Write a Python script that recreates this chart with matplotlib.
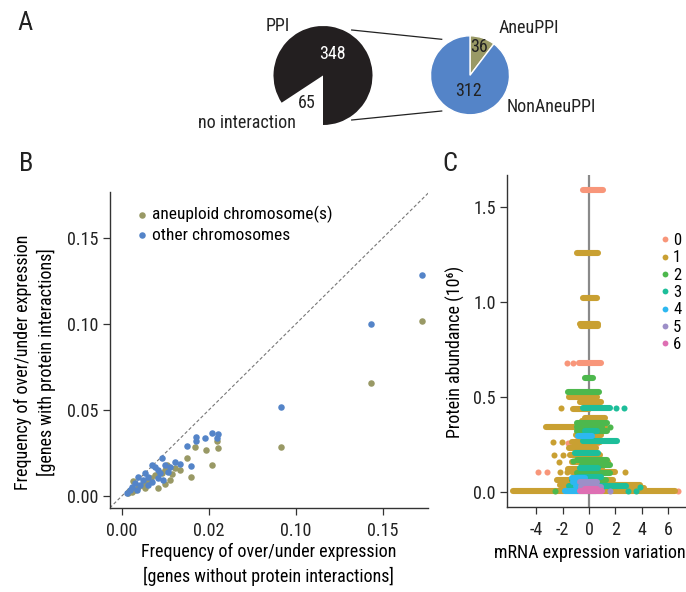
import matplotlib
matplotlib.use("Agg")
import matplotlib.pyplot as plt
from matplotlib import font_manager
from matplotlib.lines import Line2D

# pick a narrow font if one is there
names = {f.name for f in font_manager.fontManager.ttflist}
base = 'DejaVu Sans'
for cand in ['Liberation Sans Narrow', 'Roboto Condensed', 'Liberation Sans']:
    if cand in names:
        base = cand
        break
print("font:", base)
plt.rcParams['font.family'] = [base, 'DejaVu Sans']
plt.rcParams['axes.unicode_minus'] = False

# ---- panel A data ----
ppi_values = [348, 65]
ppi_labels = ['PPI', 'no interaction']
aneu_values = [36, 312]
aneu_labels = ['AneuPPI', 'NonAneuPPI']

# ---- panel B data ----
b_aneu_x = [0.1726, 0.1435, 0.0914, 0.0423, 0.0481, 0.0554, 0.0548, 0.0377, 0.0519,
            0.0397, 0.0305, 0.0276, 0.0247, 0.0209, 0.0065, 0.0113, 0.0132, 0.0056,
            0.0247, 0.0228, 0.0190, 0.0151, 0.0094, 0.0075, 0.0035, 0.0170, 0.0290,
            0.0335, 0.0260, 0.0140, 0.0040]
b_aneu_y = [0.1020, 0.0657, 0.0285, 0.0287, 0.0267, 0.0277, 0.0320, 0.0219, 0.0180,
            0.0109, 0.0161, 0.0093, 0.0070, 0.0045, 0.0089, 0.0064, 0.0045, 0.0025,
            0.0151, 0.0132, 0.0122, 0.0093, 0.0054, 0.0035, 0.0015, 0.0105, 0.0125,
            0.0150, 0.0180, 0.0075, 0.0030]
b_other_x = [0.1726, 0.1435, 0.0914, 0.0425, 0.0425, 0.0477, 0.0519, 0.0554, 0.0548,
             0.0377, 0.0397, 0.0305, 0.0333, 0.0228, 0.0247, 0.0276, 0.0171, 0.0190,
             0.0209, 0.0266, 0.0132, 0.0151, 0.0094, 0.0122, 0.0171, 0.0209, 0.0237,
             0.0075, 0.0056, 0.0046, 0.0027, 0.0084, 0.0103, 0.0151, 0.0218]
b_other_y = [0.1285, 0.0998, 0.0516, 0.0345, 0.0320, 0.0335, 0.0364, 0.0360, 0.0335,
             0.0293, 0.0174, 0.0200, 0.0186, 0.0219, 0.0180, 0.0170, 0.0180, 0.0170,
             0.0151, 0.0141, 0.0132, 0.0112, 0.0112, 0.0093, 0.0083, 0.0103, 0.0093,
             0.0074, 0.0054, 0.0035, 0.0016, 0.0035, 0.0064, 0.0064, 0.0132]
b_xticks = [0.0, 0.05, 0.10, 0.15]
b_xticklabels = ['0.00', '0.02', '0.10', '0.15']
b_yticks = [0.0, 0.05, 0.10, 0.15]

# ---- panel C data: runs of points (group, abundance, x from, x to) ----
c_groups = ['0', '1', '2', '3', '4', '5', '6']
c_row_grp = [0, 0, 0, 0, 0, 0, 0, 0, 0, 0,
             1, 1, 1, 1, 1, 1, 1, 1, 1, 1, 1, 1, 1, 1, 1, 1, 1, 1, 1, 1, 1, 1, 1, 1,
             1, 1, 1, 1, 1, 1,
             2, 2, 2, 2, 2, 2, 2, 2, 2, 2, 2, 2, 2,
             3, 3, 3, 3, 3, 3, 3, 3, 3, 3, 3, 3, 3,
             4, 4, 4, 4, 4,
             5, 5, 5,
             6, 6]
c_row_y = [1.587, 0.679, 0.679, 0.679, 0.255, 0.255, 0.270, 0.105, 0.105, 0.003,
           0.003, 1.255, 1.018, 0.885, 0.870, 0.500, 0.470, 0.442, 0.435, 0.386,
           0.370, 0.339, 0.300, 0.260, 0.260, 0.260, 0.230, 0.193, 0.193, 0.193,
           0.158, 0.158, 0.105, 0.105, 0.105, 0.105, 0.062, 0.035, 0.020, 0.120,
           0.598, 0.523, 0.360, 0.340, 0.340, 0.320, 0.167, 0.163, 0.140, 0.097,
           0.062, 0.030, 0.005,
           0.442, 0.442, 0.442, 0.320, 0.267, 0.202, 0.123, 0.080, 0.030, 0.026,
           0.005, 0.005, 0.010,
           0.293, 0.070, 0.053, 0.003, 0.030,
           0.053, 0.025, 0.005,
           0.003, 0.015]
c_row_x0 = [-0.48, -1.70, -1.24, -0.74, -1.60, 0.58, -0.80, -3.85, -3.20, 6.79,
            -5.76, -0.94, -0.46, -0.68, -0.60, -1.55, -0.68, -2.15, -1.24, -0.30,
            -0.50, -3.30, -1.00, -2.70, -2.08, -1.32, -1.50, -2.64, -1.95, -1.44,
            -2.30, -1.30, -2.20, -1.70, -1.30, 2.74, -2.46, -2.20, -1.50, -1.60,
            -0.30, -1.62, -0.90, -0.94, 1.60, -0.90, -0.94, -1.20, -0.50, -0.90,
            -1.30, -1.00, -2.60,
            -0.48, 2.05, 2.70, -0.30, -0.43, -1.06, -0.68, -0.80, -1.50, 3.88,
            2.97, 3.60, -1.00,
            -0.81, -1.30, -1.19, -1.80, -1.00,
            -0.68, -0.60, 1.60,
            -0.70, -0.30]
c_row_x1 = [1.03, -1.70, -1.24, 0.89, -1.60, 0.58, 0.50, -3.85, -3.20, 6.79,
            6.54, 0.71, 0.63, 0.71, 0.65, 0.60, 0.89, -2.15, 0.00, 1.22,
            1.10, 1.20, 0.90, -2.70, -2.08, 0.84, 0.50, -2.64, -1.95, 0.84,
            -2.30, 1.47, -2.20, -1.70, 1.98, 2.74, 1.85, 3.88, 4.20, 1.00,
            0.33, 0.78, 1.35, 1.00, 1.60, 1.35, 1.35, -1.20, 1.60, 1.60,
            1.30, 2.20, -2.60,
            1.60, 2.05, 2.70, 0.60, 2.10, 0.71, 0.71, 0.90, 2.80, 3.88,
            2.97, 3.60, 1.00,
            0.20, -0.30, -0.80, 0.50, 0.20,
            0.58, 0.90, 1.60,
            1.00, 0.60]
c_yticks = [0.0, 0.5, 1.0, 1.5]
c_xticks = [-4, -2, 0, 2, 4, 6]

c_colors = ['#F8967A', '#C9A032', '#4DB84D', '#1DBE9A', '#2DB8F0', '#9D8FC8', '#DE6FB3']
olive = '#999965'
blue = '#5484C8'
ink = '#222222'

fig = plt.figure(figsize=(6.86, 5.92), dpi=100)
W, H = 686.0, 592.0

def fx(px):
    return px / W

def fy(py):
    return 1 - py / H

# ---------------- panel A ----------------
r1, c1 = 49.5, (323, 75.5)
ax_p1 = fig.add_axes([fx(c1[0] - r1), fy(c1[1] + r1), 2 * r1 / W, 2 * r1 / H])
ax_p1.pie(ppi_values, colors=['#231F20', 'none'], startangle=270, counterclock=True,
          radius=1, wedgeprops=dict(linewidth=0))
ax_p1.set_aspect('auto')
ax_p1.set_xlim(-1, 1)
ax_p1.set_ylim(-1, 1)
ax_p1.axis('off')
ax_p1.text(0.20, 0.44, str(ppi_values[0]), color='white', fontsize=13, ha='center', va='center')
ax_p1.text(-0.32, -0.55, str(ppi_values[1]), color=ink, fontsize=13, ha='center', va='center')
ax_p1.text(-0.92, 0.99, ppi_labels[0], color=ink, fontsize=13, ha='center', va='center')
ax_p1.text(-1.54, -0.96, ppi_labels[1], color=ink, fontsize=13, ha='center', va='center')

r2, c2 = 39.5, (470, 75.3)
ax_p2 = fig.add_axes([fx(c2[0] - r2), fy(c2[1] + r2), 2 * r2 / W, 2 * r2 / H])
ax_p2.pie(aneu_values, colors=[olive, blue], startangle=90, counterclock=False,
          radius=1, wedgeprops=dict(linewidth=1, edgecolor='white'))
ax_p2.set_aspect('auto')
ax_p2.set_xlim(-1, 1)
ax_p2.set_ylim(-1, 1)
ax_p2.axis('off')
ax_p2.text(0.23, 0.72, str(aneu_values[0]), color=ink, fontsize=13, ha='center', va='center')
ax_p2.text(-0.03, -0.41, str(aneu_values[1]), color=ink, fontsize=13, ha='center', va='center')
ax_p2.text(1.49, 1.20, aneu_labels[0], color=ink, fontsize=13, ha='center', va='center')
ax_p2.text(2.06, -0.80, aneu_labels[1], color=ink, fontsize=13, ha='center', va='center')

# connector lines between the pies
fig.add_artist(Line2D([fx(351.7), fx(441.7)], [fy(30), fy(39.3)], color=ink, lw=0.9,
                      transform=fig.transFigure))
fig.add_artist(Line2D([fx(351.7), fx(441.7)], [fy(120), fy(111)], color=ink, lw=0.9,
                      transform=fig.transFigure))

# ---------------- panel B ----------------
axb = fig.add_axes([0.160, 0.142, 0.4636, 0.534])
lo, hi = -0.007, 0.177
axb.plot([lo, hi], [lo, hi], color='#777777', lw=0.8, dashes=(3, 2), zorder=1)
axb.scatter(b_aneu_x, b_aneu_y, s=22, color=olive, linewidths=0, zorder=2,
            label='aneuploid chromosome(s)')
axb.scatter(b_other_x, b_other_y, s=22, color=blue, linewidths=0, zorder=3,
            label='other chromosomes')
axb.set_xlim(lo, 0.176)
axb.set_ylim(lo, hi)
axb.set_xticks(b_xticks)
axb.set_xticklabels(b_xticklabels)
axb.set_yticks(b_yticks)
axb.set_yticklabels(['%.2f' % v for v in b_yticks])
axb.set_xlabel('Frequency of over/under expression\n[genes without protein interactions]',
               fontsize=13, linespacing=1.35)
axb.set_ylabel('Frequency of over/under expression\n[genes with protein interactions]',
               fontsize=13, linespacing=1.35)
axb.xaxis.set_label_coords(0.5, -0.112)
axb.yaxis.set_label_coords(-0.168, 0.46)
axb.legend(loc='upper left', bbox_to_anchor=(0.079, 0.955), frameon=False, fontsize=12.5,
           handlelength=0.8, handletextpad=0.2, borderpad=0, borderaxespad=0,
           labelspacing=0.25, scatterpoints=1)

# ---------------- panel C ----------------
axc = fig.add_axes([506.7 / W, 0.1436, 1 - 506.7 / W, 0.5608])
axc.axvline(0, color='#8a8a8a', lw=1.6, zorder=1)
for g in range(len(c_groups)):
    for grp, y, x0, x1 in zip(c_row_grp, c_row_y, c_row_x0, c_row_x1):
        if grp != g:
            continue
        if x1 > x0:
            axc.plot([x0, x1], [y, y], color=c_colors[g], lw=4.4,
                     solid_capstyle='round', zorder=2 + g)
        else:
            axc.scatter([x0], [y], s=19, color=c_colors[g], linewidths=0, zorder=2 + g)
axc.set_xlim(-6.26, 7.38)
axc.set_ylim(-0.08, 1.667)
axc.set_xticks(c_xticks)
axc.set_yticks(c_yticks)
axc.set_yticklabels(['%.1f' % v for v in c_yticks])
axc.set_xlabel('mRNA expression variation', fontsize=13)
axc.set_ylabel('Protein abundance (10\u2076)', fontsize=13)
axc.xaxis.set_label_coords(0.465, -0.111)
axc.yaxis.set_label_coords(-0.23, 0.468)
handles = [Line2D([], [], marker='o', ls='none', markersize=4.2, markeredgewidth=0,
                  color=c) for c in c_colors]
axc.legend(handles, c_groups, loc='upper left', bbox_to_anchor=(0.845, 0.825),
           frameon=False, fontsize=12, handlelength=0.8, handletextpad=0.1,
           borderpad=0, borderaxespad=0, labelspacing=0.14)

for ax in (axb, axc):
    for side in ('top', 'right'):
        ax.spines[side].set_visible(False)
    for side in ('left', 'bottom'):
        ax.spines[side].set_color('#333333')
        ax.spines[side].set_linewidth(1.0)
    ax.tick_params(direction='out', length=5, width=0.9, color='#333333',
                   labelsize=13, labelcolor=ink, pad=3)
    ax.tick_params(axis='x', pad=5)

# panel letters
fig.text(fx(25), fy(23), 'A', fontsize=19, ha='center', va='center', color=ink)
fig.text(fx(26), fy(164), 'B', fontsize=19, ha='center', va='center', color=ink)
fig.text(fx(450), fy(164), 'C', fontsize=19, ha='center', va='center', color=ink)

fig.savefig('out.png', dpi=100)
